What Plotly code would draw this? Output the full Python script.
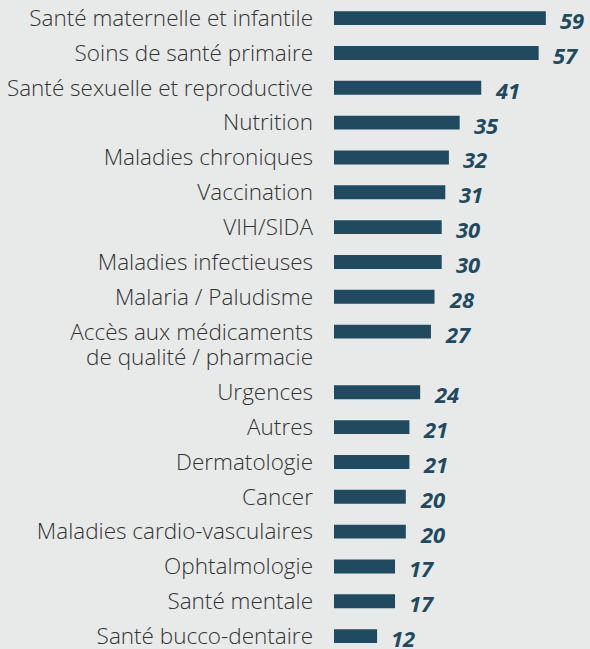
import plotly.graph_objects as go

categories = [
    "Santé maternelle et infantile",
    "Soins de santé primaire",
    "Santé sexuelle et reproductive",
    "Nutrition",
    "Maladies chroniques",
    "Vaccination",
    "VIH/SIDA",
    "Maladies infectieuses",
    "Malaria / Paludisme",
    "Accès aux médicaments<br>de qualité / pharmacie",
    "Urgences",
    "Autres",
    "Dermatologie",
    "Cancer",
    "Maladies cardio-vasculaires",
    "Ophtalmologie",
    "Santé mentale",
    "Santé bucco-dentaire",
]
values = [59, 57, 41, 35, 32, 31, 30, 30, 28, 27, 24, 21, 21, 20, 20, 17, 17, 12]

BG = "#e8eae9"
BAR = "#1f4a5f"
EXTRA_LINE = 0.74

pos = []
tickvals = []
ticktext = []
y = 0.0
for cat in categories:
    lines = cat.split("<br>")
    pos.append(y)
    tickvals.append(y)
    ticktext.append(lines[0])
    for k, ln in enumerate(lines[1:], start=1):
        tickvals.append(y + EXTRA_LINE * k)
        ticktext.append(ln)
    y += 1 + EXTRA_LINE * (len(lines) - 1)

fig = go.Figure()
fig.add_trace(go.Bar(
    x=values, y=pos, orientation="h", width=0.4,
    marker=dict(color=BAR, line=dict(width=0)),
    hoverinfo="skip",
))

for v, p in zip(values, pos):
    fig.add_annotation(
        x=v, y=p, text=f"<b><i>{v}</i></b>", showarrow=False,
        xanchor="left", yanchor="middle", xshift=12, yshift=-2,
        font=dict(family="Open Sans", size=22, color=BAR),
    )

fig.update_layout(
    width=590, height=649,
    paper_bgcolor=BG, plot_bgcolor=BG,
    margin=dict(l=334, r=0, t=0, b=0),
    showlegend=False,
    xaxis=dict(range=[0, 71.3], visible=False, fixedrange=True),
    yaxis=dict(
        range=[pos[-1] + 0.37, -0.52],
        tickmode="array", tickvals=tickvals, ticktext=ticktext,
        showgrid=False, zeroline=False, showline=False,
        ticks="", ticklabelstandoff=20, ticklabeloverflow="allow",
        tickfont=dict(family="Open Sans", size=22.5, color="#333333", weight=300),
        automargin=False,
    ),
)

fig.write_html(
    "out.html",
    config={"displayModeBar": False},
    post_script="document.body.style.margin='0';document.body.style.background='%s';" % BG,
)
